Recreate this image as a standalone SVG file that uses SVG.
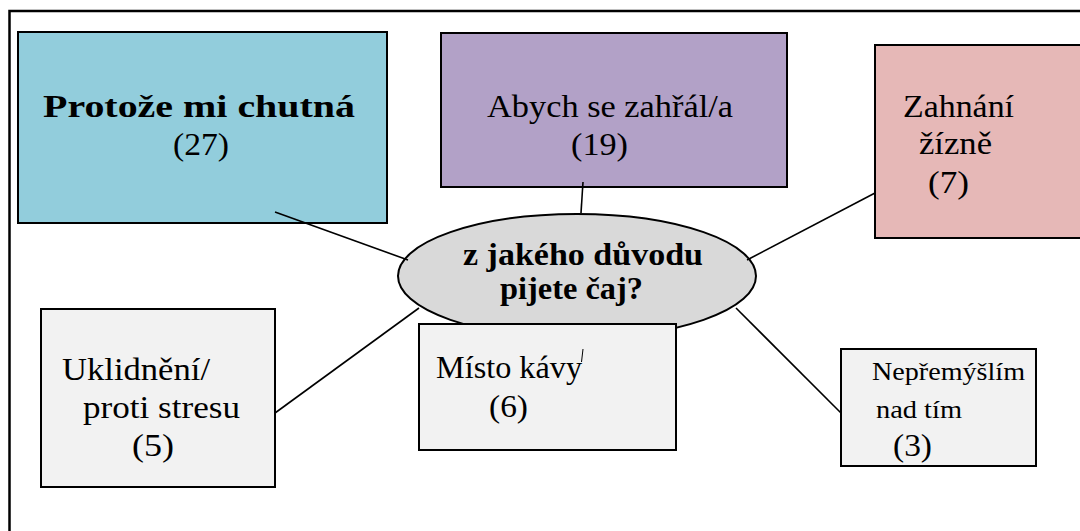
<svg xmlns="http://www.w3.org/2000/svg" width="1080" height="531" viewBox="0 0 1080 531">
  <style>
    .box { stroke: #000; stroke-width: 2; }
    .t { font-family: "Liberation Serif", "DejaVu Serif", serif; font-size: 32px; fill: #000; }
    .b { font-weight: bold; }
    .sm { font-size: 26px; }
    .conn line { stroke: #000; stroke-width: 1.6; }
  </style>
  <rect width="1080" height="531" fill="#fff"/>

  <!-- page frame -->
  <g id="frame" fill="none" stroke="#000" stroke-width="2.5">
    <path d="M9.5 531 V11 H1080"/>
  </g>

  <g id="node-chutna">
    <rect class="box" x="18" y="32" width="369" height="191" fill="#92CDDC"/>
    <text class="t b" x="43" y="117" font-size="40" textLength="312" lengthAdjust="spacingAndGlyphs">Protože mi chutná</text>
    <text class="t" x="173" y="155" textLength="56" lengthAdjust="spacingAndGlyphs">(27)</text>
  </g>

  <g id="node-zahral">
    <rect class="box" x="441" y="33" width="346" height="154" fill="#B2A1C7"/>
    <text class="t" x="487" y="117" textLength="246" lengthAdjust="spacingAndGlyphs">Abych se zahřál/a</text>
    <text class="t" x="571" y="155" textLength="57" lengthAdjust="spacingAndGlyphs">(19)</text>
  </g>

  <g id="node-zizen">
    <rect class="box" x="875" y="45" width="215" height="193" fill="#E6B8B7"/>
    <text class="t" x="903" y="117" textLength="111" lengthAdjust="spacingAndGlyphs">Zahnání</text>
    <text class="t" x="919" y="154" textLength="73" lengthAdjust="spacingAndGlyphs">žízně</text>
    <text class="t" x="928" y="193" textLength="41" lengthAdjust="spacingAndGlyphs">(7)</text>
  </g>

  <g id="node-center">
    <ellipse cx="577" cy="276" rx="179" ry="62" fill="#D9D9D9" stroke="#000" stroke-width="2"/>
    <text class="t b" x="463" y="265" font-size="26" textLength="240" lengthAdjust="spacingAndGlyphs">z jakého důvodu</text>
    <text class="t b" x="500" y="299" font-size="26" textLength="143" lengthAdjust="spacingAndGlyphs">pijete čaj?</text>
  </g>

  <g id="node-stres">
    <rect class="box" x="41" y="309" width="234" height="178" fill="#F2F2F2"/>
    <text class="t" x="62" y="380" textLength="148" lengthAdjust="spacingAndGlyphs">Uklidnění/</text>
    <text class="t" x="83" y="418" textLength="157" lengthAdjust="spacingAndGlyphs">proti stresu</text>
    <text class="t" x="132" y="456" textLength="42" lengthAdjust="spacingAndGlyphs">(5)</text>
  </g>

  <g id="node-kava">
    <rect class="box" x="419" y="324" width="257" height="126" fill="#F2F2F2"/>
    <text class="t" x="436" y="378" textLength="146" lengthAdjust="spacingAndGlyphs">Místo kávy</text>
    <line x1="583" y1="349" x2="581.5" y2="362" stroke="#000" stroke-width="1"/>
    <text class="t" x="489" y="417" textLength="39" lengthAdjust="spacingAndGlyphs">(6)</text>
  </g>

  <g id="node-nepremyslim">
    <rect class="box" x="841" y="349" width="195" height="117" fill="#F2F2F2"/>
    <text class="t sm" x="872" y="380" textLength="153" lengthAdjust="spacingAndGlyphs">Nepřemýšlím</text>
    <text class="t sm" x="876" y="418" textLength="86" lengthAdjust="spacingAndGlyphs">nad tím</text>
    <text class="t" x="893" y="456" textLength="39" lengthAdjust="spacingAndGlyphs">(3)</text>
  </g>

  <g id="connectors" class="conn">
    <line x1="275" y1="212" x2="408" y2="260"/>
    <line x1="583" y1="182" x2="581" y2="213"/>
    <line x1="875" y1="193" x2="747" y2="260"/>
    <line x1="275" y1="413" x2="419" y2="308"/>
    <line x1="736" y1="308" x2="841" y2="413"/>
  </g>
</svg>
